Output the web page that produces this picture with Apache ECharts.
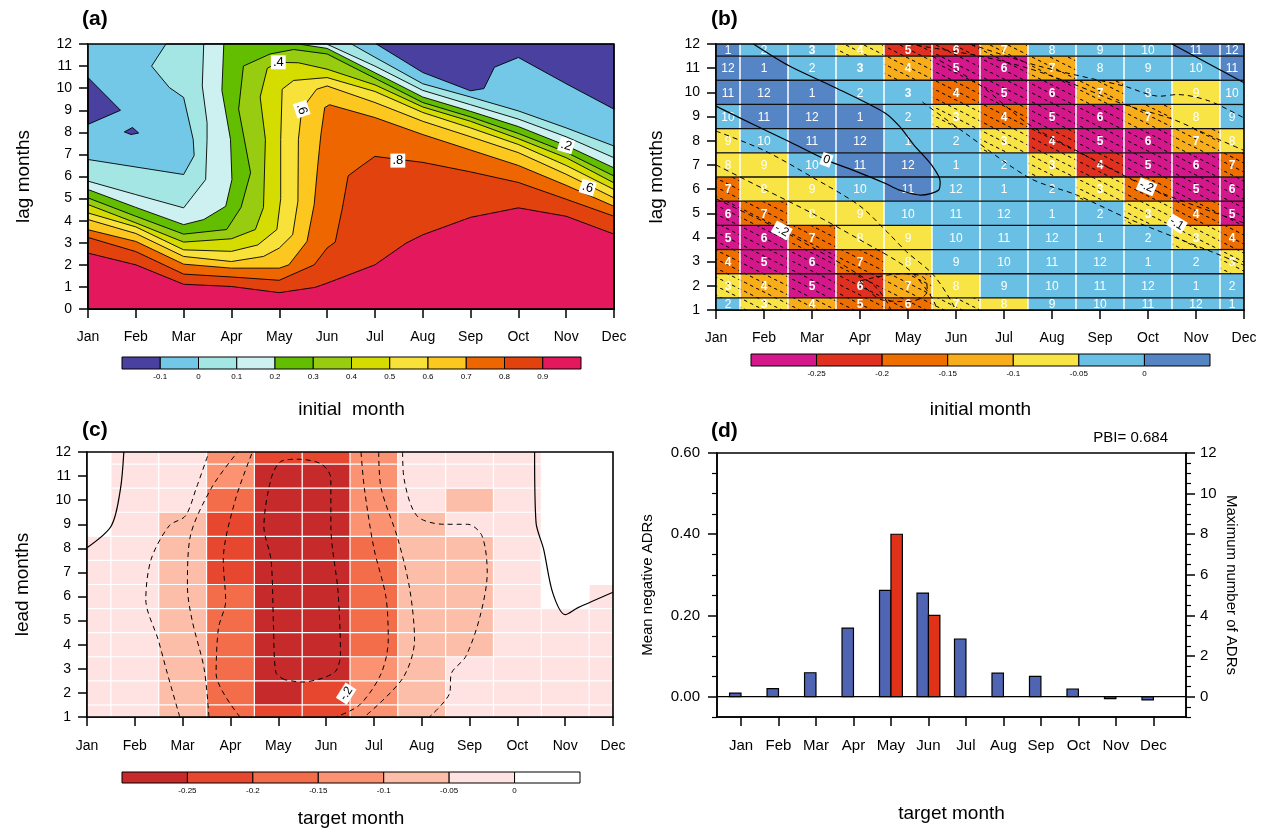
<!DOCTYPE html>
<html>
<head>
<meta charset="utf-8">
<script src="https://cdn.jsdelivr.net/npm/echarts@6/dist/echarts.min.js"></script>
<style>
  html, body { margin: 0; padding: 0; background: #fff; }
  #main { width: 1262px; height: 829px; }
</style>
</head>
<body>
<div id="main"></div>
<script>
var FONT = 'Liberation Sans';
var months = ['Jan', 'Feb', 'Mar', 'Apr', 'May', 'Jun', 'Jul', 'Aug', 'Sep', 'Oct', 'Nov', 'Dec'];

// ---------- (a) contour lines: [month index, lag] ----------
var aLevelLabels = ['-0.1', '0', '0.1', '0.2', '0.3', '0.4', '0.5', '0.6', '0.7', '0.8', '0.9'];
var aColors = ['#4a40a0', '#72c8e6', '#a4e6e4', '#cdf0f0', '#64be00', '#98cc10', '#d4dc00',
    '#f8e23a', '#fcc820', '#ee6600', '#e2420e', '#e4185c'];
var aBlue1 = [[0, 10.48], [0.68, 9.0], [0, 8.36]];
var aBlue2 = [[0.76, 8.02], [0.93, 8.22], [1.06, 7.97], [0.9, 7.9]];
var aBlue3 = [[6.03, 12], [7, 10.71], [8, 9.88], [8.28, 9.98], [8.5, 10.95], [9, 11.39], [10, 10.2], [11, 9.05], [11, 12]];
var aC00L = [[0, 6.77], [2, 6.09], [2.22, 6.95], [2.2, 7.68], [2.0, 9.58], [1.7, 10.03], [1.33, 11.0], [1.63, 12]];
var aC00R = [[5.51, 12], [6, 11.4], [7, 10.2], [8, 9.6], [9, 8.97], [10, 8.2], [11, 7.38]];
var aC01L = [[0, 5.79], [1, 5.18], [2, 4.58], [2.46, 5.86], [2.49, 7.68], [2.49, 8.44], [2.39, 10.1], [2.42, 12]];
var aC01R = [[4.99, 12], [6, 11.0], [7, 9.9], [8, 9.25], [9, 8.6], [10, 7.8], [11, 6.85]];
var aC02L = [[0, 5.41], [1, 4.6], [2, 3.82], [2.42, 4.05], [2.88, 4.65], [3.01, 5.86], [2.98, 7.68], [2.8, 9.9], [2.84, 12]];
var aC02R = [[4.4, 12], [5, 11.8], [6, 10.7], [7, 9.6], [8, 8.95], [9, 8.26], [10, 7.4], [11, 6.39]];
var aC03 = [[0, 5.03], [1, 4.2], [2, 3.39], [2.9, 3.6], [3.2, 4.6], [3.4, 6.17], [3.15, 9.05], [3.25, 11.0], [3.81, 11.55],
    [4.3, 11.75], [5, 11.55], [6, 10.45], [7, 9.35], [8, 8.7], [9, 7.95], [10, 7.1], [11, 6.02]];
var aC04 = [[0, 4.73], [1, 3.9], [2, 3.03], [3, 3.18], [3.5, 3.6], [3.67, 4.6], [3.71, 7.68], [3.6, 9.6], [3.75, 10.9],
    [3.98, 11.17], [4.4, 11.15], [5, 10.86], [6, 10.15], [7, 9.15], [8, 8.5], [9, 7.71], [10, 6.85], [11, 5.71]];
var aC05 = [[0, 4.35], [1, 3.72], [2, 2.68], [3, 2.61], [3.55, 2.9], [3.95, 3.6], [4.03, 5.0], [4.03, 7.68], [4.06, 9.95],
    [4.3, 10.35], [5, 10.48], [6, 9.85], [7, 8.9], [8, 8.2], [9, 7.45], [10, 6.5], [11, 5.41]];
var aC06 = [[0, 4.05], [1, 3.42], [2, 2.38], [3, 2.15], [3.67, 2.38], [4, 2.76], [4.28, 3.36], [4.39, 4.88], [4.4, 7.68],
    [4.47, 9.05], [4.78, 9.95], [5, 10.1], [6, 9.35], [7, 8.5], [8, 7.8], [9, 7.08], [10, 6.1], [11, 5.03]];
var aC07 = [[0, 3.59], [1, 3.06], [2, 2.03], [3, 1.85], [4, 1.85], [4.2, 2.0], [4.58, 3.06], [4.73, 4.73], [4.8, 6.39],
    [4.87, 7.9], [4.95, 9.12], [5.05, 9.25], [6, 8.67], [7, 7.9], [8, 7.2], [9, 6.5], [10, 5.6], [11, 4.65]];
var aC08 = [[0, 3.24], [1, 2.6], [2, 1.58], [3, 1.45], [4, 1.3], [4.73, 2.0], [5, 2.76], [5.17, 3.03], [5.32, 4.58],
    [5.44, 6.03], [5.72, 6.48], [6, 6.91], [7, 6.64], [8, 6.21], [9, 5.73], [10, 4.97], [11, 4.2]];
var aC09 = [[0, 2.53], [1, 2.0], [2, 1.12], [3, 1.02], [4, 0.74], [4.75, 0.98], [5, 1.17], [6, 2.0], [6.65, 2.98],
    [7, 3.36], [8, 4.15], [9, 4.58], [10, 4.2], [11, 3.39]];
var aLabels = [[3.98, 11.17, '.4', 0], [4.47, 9.05, '.6', -1.25], [6.48, 6.72, '.8', 0], [10.0, 7.4, '.2', -0.3], [10.45, 5.5, '.6', -0.3]];

// ---------- (b) colour class per cell, rows lag 1..12, columns Jan..Dec ----------
var bColors = ['#d4188c', '#e03020', '#ee6e00', '#f8ae1a', '#f8e444', '#6ac0e4', '#5585c5'];
var bLevelLabels = ['-0.25', '-0.2', '-0.15', '-0.1', '-0.05', '0'];
var bClass = [
    [5, 4, 3, 2, 2, 4, 4, 5, 5, 5, 5, 5],
    [4, 3, 0, 1, 3, 4, 5, 5, 5, 5, 5, 5],
    [2, 0, 0, 2, 4, 5, 5, 5, 5, 5, 5, 4],
    [0, 0, 2, 4, 4, 5, 5, 5, 5, 5, 4, 2],
    [0, 2, 4, 4, 5, 5, 5, 5, 5, 4, 2, 0],
    [2, 4, 4, 5, 6, 5, 5, 5, 4, 2, 0, 0],
    [4, 4, 5, 6, 6, 5, 5, 4, 1, 0, 0, 2],
    [4, 5, 6, 6, 5, 5, 4, 1, 0, 0, 3, 4],
    [5, 6, 6, 6, 5, 4, 2, 0, 0, 3, 4, 5],
    [6, 6, 6, 5, 5, 2, 0, 0, 3, 5, 4, 5],
    [6, 6, 5, 5, 3, 0, 0, 3, 5, 5, 5, 6],
    [6, 5, 5, 4, 1, 1, 3, 5, 5, 5, 6, 6]
];
var bStrongMonths = [3, 4, 5, 6, 7];
var bZeroA = [[0.78, 12], [1.52, 11.1], [2.49, 10.19], [3.52, 9.15], [3.82, 8.6], [4.12, 7.83], [4.49, 7.0], [4.67, 6.31],
    [4.64, 5.96], [4.27, 5.75], [3.82, 5.96], [3.52, 6.24], [2.93, 6.72], [2.3, 7.21], [1.52, 7.97], [0.78, 8.67], [0, 9.43]];
var bZeroB = [[9.5, 12], [11, 10.4]];
var bDashUA = [[5.3, 12], [6.7, 11.1], [8.5, 10.26], [9.24, 9.84], [9.61, 9.91], [10.28, 9.64], [11, 8.94]];
var bDashUB = [[4.3, 9.6], [5.2, 8.3], [6.54, 6.45], [7.51, 5.76], [8.56, 4.8], [9.53, 4.03], [10.5, 3.27], [11, 2.85]];
var bDashUC = [[4.5, 11.5], [5.5, 10.3], [6.5, 8.7], [7.5, 7.6], [8.97, 6.1], [10, 5.3], [11, 4.6]];
var bDashUD = [[4.0, 12], [5.5, 11.5], [6.5, 11], [7.5, 10.3], [8.5, 9.5], [9.5, 8.9], [10.3, 8.2], [11, 7.6]];
var bDashLA = [[0, 8.4], [1, 7.6], [2, 6.5], [3, 5.3], [3.56, 4.24], [3.97, 3.41], [4.53, 2.45], [4.94, 1.21], [5.05, 0.5]];
var bDashLB = [[0, 7.0], [1, 6.0], [2, 5.0], [3, 3.9], [4, 2.7], [4.5, 1.5], [4.7, 0.5]];
var bDashLC = [[0, 5.6], [1.37, 4.29], [2, 3.6], [2.7, 2.8], [3.3, 2.0], [3.6, 1.2], [3.7, 0.5]];
var bDashLE = [[3.0, 2.2], [3.5, 1.4], [4.0, 1.35], [4.4, 1.8], [4.35, 2.3], [3.9, 2.5], [3.0, 2.2]];
var bLabels = [[2.3, 7.21, '0', -0.35], [1.37, 4.29, '-.2', -0.5], [8.97, 6.1, '-.2', -0.4], [9.6, 4.57, '-.1', -0.55]];

// ---------- (c) colour class per cell, rows lead 1..12, columns Jan..Dec ----------
var cColors = ['#c62a2a', '#e8472f', '#f46d4b', '#fb9272', '#fdbea9', '#fee3e2', '#ffffff'];
var cClass = [
    [5, 5, 4, 2, 1, 1, 3, 4, 5, 5, 5, 5],
    [5, 5, 4, 2, 0, 1, 3, 4, 5, 5, 5, 5],
    [5, 5, 4, 2, 0, 0, 3, 4, 5, 5, 5, 5],
    [5, 5, 4, 2, 0, 0, 2, 4, 4, 5, 5, 5],
    [5, 5, 4, 2, 0, 0, 2, 4, 4, 5, 5, 5],
    [5, 5, 4, 2, 0, 0, 2, 4, 4, 5, 6, 5],
    [5, 5, 4, 1, 0, 0, 2, 4, 4, 5, 6, 6],
    [5, 5, 4, 1, 0, 0, 2, 4, 4, 5, 6, 6],
    [6, 5, 4, 1, 0, 0, 3, 4, 5, 5, 6, 6],
    [6, 5, 5, 2, 0, 0, 3, 5, 4, 5, 6, 6],
    [6, 5, 5, 3, 0, 0, 3, 5, 5, 5, 6, 6],
    [6, 5, 5, 3, 1, 1, 3, 5, 5, 5, 6, 6]
];
var cSolidL = [[0.77, 12], [0.7, 10.47], [0.51, 8.94], [0, 8.03]];
var cSolidR = [[9.36, 12], [9.39, 9.08], [9.55, 7.96], [9.74, 6.15], [10.0, 5.25], [10.26, 5.53], [11, 6.18]];
var c1L = [[1.94, 1], [1.68, 2.81], [1.49, 4.2], [1.23, 5.87], [1.34, 7.54], [1.72, 8.94], [2.06, 9.35], [2.28, 10.47], [2.55, 12]];
var c1R = [[6.6, 12], [6.63, 10.89], [6.9, 9.35], [7.47, 9.0], [7.96, 9.0], [8.26, 8.52], [8.37, 6.99], [8.22, 5.18],
    [7.92, 3.51], [7.62, 2.81], [7.58, 1.97], [7.16, 1.0]];
var c2L = [[2.55, 1], [2.45, 3.0], [2.2, 5.0], [2.1, 6.4], [2.15, 8.4], [2.6, 10.5], [3.15, 12]];
var c2R = [[6.1, 12], [6.15, 10.5], [6.5, 8.4], [6.75, 6.3], [6.85, 4.2], [6.6, 2.6], [5.8, 1.0]];
var c3L = [[3.2, 1], [2.7, 2.8], [2.75, 4.7], [2.9, 5.8], [2.85, 7.5], [3.1, 10.0], [3.46, 12]];
var c3R = [[5.73, 12], [5.8, 10.5], [6.0, 8.0], [6.25, 6.0], [6.3, 4.2], [6.15, 2.8], [5.7, 1.5], [5.2, 1.0]];
var c4 = [[4.13, 2.55], [3.95, 2.85], [3.9, 4.8], [3.85, 7.5], [3.7, 8.9], [3.85, 10.9], [4.05, 11.6], [4.4, 11.7],
    [4.9, 11.5], [5.1, 10.9], [5.1, 8.9], [5.25, 6.2], [5.3, 3.6], [5.2, 2.9], [4.9, 2.6], [4.5, 2.45], [4.13, 2.55]];
var cLabels = [[5.42, 1.97, '-.2', 1.0]];

// ---------- (d) bars ----------
var dBlue = [0.009, 0.02, 0.059, 0.169, 0.262, 0.255, 0.142, 0.058, 0.05, 0.019, -0.005, -0.008];
var dRed = [null, null, null, null, 8, 4, null, null, null, null, null, null];
var dXRange = [-0.64, 11.87];
var dLeftTicks = [0, 0.2, 0.4, 0.6];
var dRightTicks = [0, 2, 4, 6, 8, 10, 12];

// hatch pattern for the significant cells of (b)
var hatch = document.createElement('canvas');
hatch.width = 18;
hatch.height = 9;
(function () {
    var g = hatch.getContext('2d');
    g.strokeStyle = '#000';
    g.lineWidth = 1;
    g.setLineDash([3.6, 3.1]);
    g.beginPath();
    g.moveTo(0, 0);
    g.lineTo(18, 9);
    g.stroke();
})();

var aEdge = [[11, 0], [0, 0]];
var aBox = [[0, 0], [11, 0], [11, 12], [0, 12]];
var aRegions = [
    {pts: aBox, color: aColors[1], bare: true},
    {pts: aBlue1, color: aColors[0]},
    {pts: aBlue2, color: aColors[0]},
    {pts: aBlue3, color: aColors[0]},
    {pts: aC00L.concat(aC00R, aEdge), color: aColors[2]},
    {pts: aC01L.concat(aC01R, aEdge), color: aColors[3]},
    {pts: aC02L.concat(aC02R, aEdge), color: aColors[4]},
    {pts: aC03.concat(aEdge), color: aColors[5]},
    {pts: aC04.concat(aEdge), color: aColors[6]},
    {pts: aC05.concat(aEdge), color: aColors[7]},
    {pts: aC06.concat(aEdge), color: aColors[8]},
    {pts: aC07.concat(aEdge), color: aColors[9]},
    {pts: aC08.concat(aEdge), color: aColors[10]},
    {pts: aC09.concat(aEdge), color: aColors[11]}
];

function cellData(rows) {
    var out = [];
    rows.forEach(function (row, r) {
        row.forEach(function (cls, m) {
            out.push([m, r + 1, cls]);
        });
    });
    return out;
}

function clippedRect(params, api, x, y) {
    var cs = params.coordSys;
    var p0 = api.coord([x - 0.5, y + 0.5]);
    var p1 = api.coord([x + 0.5, y - 0.5]);
    var x0 = Math.max(p0[0], cs.x), x1 = Math.min(p1[0], cs.x + cs.width);
    var y0 = Math.max(p0[1], cs.y), y1 = Math.min(p1[1], cs.y + cs.height);
    return {x0: x0, x1: x1, y0: y0, y1: y1, right: p1[0] < cs.x + cs.width - 1, top: p0[1] > cs.y + 1};
}

function textItem(api, p, txt, rot, size) {
    var c = api.coord([p[0], p[1]]);
    return {
        type: 'text', x: c[0], y: c[1], rotation: rot, z2: 20,
        style: {
            text: txt, fill: '#000', font: size + 'px ' + FONT, backgroundColor: '#fff', padding: [1, 2, 0, 2],
            align: 'center', verticalAlign: 'middle', textAlign: 'center', textVerticalAlign: 'middle'
        }
    };
}

function labelSeries(gi, list, size) {
    return {
        type: 'custom', xAxisIndex: gi, yAxisIndex: gi, z: 4, silent: true,
        data: list.map(function (l) { return [l[0], l[1]]; }),
        renderItem: function (params, api) {
            var l = list[params.dataIndex];
            return textItem(api, l, l[2], l[3], size);
        }
    };
}

function contour(gi, pts, dashed, smooth) {
    return {
        type: 'line', xAxisIndex: gi, yAxisIndex: gi, data: pts, symbol: 'none', showSymbol: false,
        smooth: smooth, silent: true, clip: true, z: 3,
        lineStyle: {color: '#000', width: dashed ? 1 : 1.2, type: dashed ? [5, 4] : 'solid'}
    };
}

function frame(gi, yi) {
    return {
        type: 'custom', xAxisIndex: gi, yAxisIndex: yi, z: 6, silent: true, data: [[0, 0]],
        renderItem: function (params) {
            var cs = params.coordSys;
            return {type: 'rect', shape: {x: cs.x, y: cs.y, width: cs.width, height: cs.height},
                style: {fill: null, stroke: '#000', lineWidth: 1.6}};
        }
    };
}

function colorbar(xi, yi, colors) {
    return {
        type: 'custom', xAxisIndex: xi, yAxisIndex: yi, silent: true,
        data: colors.map(function (c, i) { return [i]; }),
        renderItem: function (params, api) {
            var i = params.dataIndex;
            var p0 = api.coord([i, 1]), p1 = api.coord([i + 1, 0]);
            return {type: 'rect', shape: {x: p0[0], y: p0[1], width: p1[0] - p0[0], height: p1[1] - p0[1]},
                style: {fill: colors[i], stroke: '#000', lineWidth: 1}};
        }
    };
}

function mainX(gi, margin) {
    return {
        type: 'value', gridIndex: gi, min: 0, max: 11, interval: 1,
        axisLine: {show: true, onZero: false, lineStyle: {color: '#000', width: 1.5}},
        axisTick: {show: true, inside: false, length: 9, lineStyle: {color: '#000', width: 1.5}},
        axisLabel: {color: '#000', fontSize: 14, fontFamily: FONT, margin: margin,
            formatter: function (v) { return months[v]; }},
        splitLine: {show: false}
    };
}

function mainY(gi, min, name, gap) {
    return {
        type: 'value', gridIndex: gi, min: min, max: 12, interval: 1,
        name: name, nameLocation: 'middle', nameGap: gap,
        nameTextStyle: {color: '#000', fontSize: 19, fontFamily: FONT},
        axisLine: {show: true, onZero: false, lineStyle: {color: '#000', width: 1.5}},
        axisTick: {show: true, inside: false, length: 9, lineStyle: {color: '#000', width: 1.5}},
        axisLabel: {color: '#000', fontSize: 14, fontFamily: FONT, margin: 16},
        splitLine: {show: false}
    };
}

function barX(gi, labels, name, gap) {
    var vals = [];
    for (var i = 1; i <= labels.length; i++) vals.push(i);
    return {
        type: 'value', gridIndex: gi, min: 0, max: labels.length + 1, show: true,
        axisLine: {show: false, onZero: false}, axisTick: {show: false}, splitLine: {show: false},
        axisLabel: {customValues: vals, color: '#000', fontSize: 8, fontFamily: FONT, margin: 4,
            formatter: function (v) { return labels[v - 1]; }},
        name: name, nameLocation: 'middle', nameGap: gap,
        nameTextStyle: {color: '#000', fontSize: 19, fontFamily: FONT}
    };
}

var dLeftMinor = [], dRightMinor = [];
for (var k = -1; k <= 12; k++) if (k % 4 !== 0) dLeftMinor.push(k * 0.05);
for (var k2 = -2; k2 <= 24; k2++) if (k2 % 4 !== 0) dRightMinor.push(k2 * 0.5);

var chart = echarts.init(document.getElementById('main'));

var option = {
    animation: false,
    backgroundColor: '#fff',
    textStyle: {fontFamily: FONT},
    title: [
        {text: '(a)', left: 82, top: 9, padding: 0, textStyle: {fontSize: 21, fontWeight: 'bold', color: '#000', fontFamily: FONT}},
        {text: '(b)', left: 711, top: 9, padding: 0, textStyle: {fontSize: 21, fontWeight: 'bold', color: '#000', fontFamily: FONT}},
        {text: '(c)', left: 82, top: 420, padding: 0, textStyle: {fontSize: 21, fontWeight: 'bold', color: '#000', fontFamily: FONT}},
        {text: '(d)', left: 711, top: 421, padding: 0, textStyle: {fontSize: 21, fontWeight: 'bold', color: '#000', fontFamily: FONT}},
        {text: 'PBI= 0.684', right: 94, top: 430, padding: 0, textStyle: {fontSize: 15, fontWeight: 'normal', color: '#000', fontFamily: FONT}}
    ],
    grid: [
        {left: 88, top: 44, width: 526, height: 265},
        {left: 716, top: 44, width: 528, height: 266},
        {left: 87, top: 452, width: 526, height: 265},
        {left: 717, top: 453, width: 469, height: 264},
        {left: 122, top: 357, width: 459, height: 12},
        {left: 751, top: 354, width: 459, height: 12},
        {left: 122, top: 772, width: 458, height: 11}
    ],
    xAxis: [
        mainX(0, 21),
        mainX(1, 21),
        mainX(2, 22),
        {
            type: 'value', gridIndex: 3, min: dXRange[0], max: dXRange[1],
            axisLine: {show: true, onZero: false, lineStyle: {color: '#000', width: 1.5}},
            axisTick: {show: true, inside: false, length: 9, customValues: [0, 1, 2, 3, 4, 5, 6, 7, 8, 9, 10, 11],
                lineStyle: {color: '#000', width: 1.5}},
            axisLabel: {customValues: [0, 1, 2, 3, 4, 5, 6, 7, 8, 9, 10, 11], color: '#000', fontSize: 15,
                fontFamily: FONT, margin: 21, formatter: function (v) { return months[v]; }},
            splitLine: {show: false},
            name: 'target month', nameLocation: 'middle', nameGap: 87,
            nameTextStyle: {color: '#000', fontSize: 19, fontFamily: FONT}
        },
        barX(4, aLevelLabels, 'initial  month', 31),
        barX(5, bLevelLabels, 'initial month', 34),
        barX(6, bLevelLabels, 'target month', 26)
    ],
    yAxis: [
        mainY(0, 0, 'lag months', 55),
        mainY(1, 1, 'lag months', 50),
        mainY(2, 1, 'lead months', 55),
        {
            type: 'value', gridIndex: 3, position: 'left', min: -0.05, max: 0.6,
            name: 'Mean negative ADRs', nameLocation: 'middle', nameGap: 62,
            nameTextStyle: {color: '#000', fontSize: 15, fontFamily: FONT},
            axisLine: {show: true, onZero: false, lineStyle: {color: '#000', width: 1.5}},
            axisTick: {show: true, inside: false, length: 9, customValues: dLeftTicks, lineStyle: {color: '#000', width: 1.5}},
            axisLabel: {customValues: dLeftTicks, color: '#000', fontSize: 15, fontFamily: FONT, margin: 17,
                formatter: function (v) { return v.toFixed(2); }},
            splitLine: {show: false}
        },
        {
            type: 'value', gridIndex: 3, position: 'right', min: -1, max: 12,
            name: 'Maximum number of ADRs', nameLocation: 'middle', nameGap: 38, nameRotate: -90,
            nameTextStyle: {color: '#000', fontSize: 15, fontFamily: FONT},
            axisLine: {show: true, onZero: false, lineStyle: {color: '#000', width: 1.5}},
            axisTick: {show: true, inside: false, length: 9, customValues: dRightTicks, lineStyle: {color: '#000', width: 1.5}},
            axisLabel: {customValues: dRightTicks, color: '#000', fontSize: 15, fontFamily: FONT, margin: 14},
            splitLine: {show: false}
        },
        {type: 'value', gridIndex: 4, min: 0, max: 1, show: false},
        {type: 'value', gridIndex: 5, min: 0, max: 1, show: false},
        {type: 'value', gridIndex: 6, min: 0, max: 1, show: false},
        {
            type: 'value', gridIndex: 3, position: 'left', min: -0.05, max: 0.6,
            axisLine: {show: false, onZero: false}, axisLabel: {show: false}, splitLine: {show: false},
            axisTick: {show: true, inside: false, length: 5, customValues: dLeftMinor, lineStyle: {color: '#000', width: 1.2}}
        },
        {
            type: 'value', gridIndex: 3, position: 'right', min: -1, max: 12,
            axisLine: {show: false, onZero: false}, axisLabel: {show: false}, splitLine: {show: false},
            axisTick: {show: true, inside: false, length: 5, customValues: dRightMinor, lineStyle: {color: '#000', width: 1.2}}
        }
    ],
    series: [
        // (a) filled contours
        {
            type: 'custom', xAxisIndex: 0, yAxisIndex: 0, silent: true,
            data: aRegions.map(function (r, i) { return [i]; }),
            renderItem: function (params, api) {
                var r = aRegions[params.dataIndex];
                return {
                    type: 'polygon', z2: params.dataIndex,
                    shape: {points: r.pts.map(function (p) { return api.coord(p); })},
                    style: {fill: r.color, stroke: r.bare ? null : '#000', lineWidth: 0.9}
                };
            }
        },
        labelSeries(0, aLabels, 13),
        // (b) cells
        {
            type: 'custom', xAxisIndex: 1, yAxisIndex: 1, silent: true,
            data: cellData(bClass),
            renderItem: function (params, api) {
                var m = api.value(0), lag = api.value(1), cls = api.value(2);
                var target = (m + lag) % 12 + 1;
                var strong = bStrongMonths.indexOf(target) >= 0;
                var r = clippedRect(params, api, m, lag);
                var kids = [{type: 'rect', z2: 0, shape: {x: r.x0, y: r.y0, width: r.x1 - r.x0, height: r.y1 - r.y0},
                    style: {fill: bColors[cls]}}];
                if (strong && cls < 5) {
                    kids.push({type: 'rect', z2: 1, shape: {x: r.x0, y: r.y0, width: r.x1 - r.x0, height: r.y1 - r.y0},
                        style: {fill: {image: hatch, repeat: 'repeat'}}});
                }
                if (r.right) {
                    kids.push({type: 'line', z2: 2, shape: {x1: r.x1, y1: r.y0, x2: r.x1, y2: r.y1},
                        style: {stroke: '#fff', lineWidth: 1.5}});
                }
                if (r.top) {
                    kids.push({type: 'line', z2: 3, shape: {x1: r.x0, y1: r.y0, x2: r.x1, y2: r.y0},
                        style: {stroke: '#111', lineWidth: 1.3}});
                }
                kids.push({type: 'text', z2: 4, x: (r.x0 + r.x1) / 2, y: (r.y0 + r.y1) / 2 + 1,
                    style: {text: String(target), fill: '#fff', font: (strong ? 'bold ' : '') + '12px ' + FONT,
                        align: 'center', verticalAlign: 'middle', textAlign: 'center', textVerticalAlign: 'middle'}});
                return {type: 'group', children: kids};
            }
        },
        contour(1, bZeroA, false, 0.3),
        contour(1, bZeroB, false, false),
        contour(1, bDashUA, true, 0.3),
        contour(1, bDashUB, true, 0.3),
        contour(1, bDashUC, true, 0.3),
        contour(1, bDashUD, true, 0.3),
        contour(1, bDashLA, true, 0.3),
        contour(1, bDashLB, true, 0.3),
        contour(1, bDashLC, true, 0.3),
        contour(1, bDashLE, true, 0.4),
        labelSeries(1, bLabels, 12),
        // (c) cells
        {
            type: 'custom', xAxisIndex: 2, yAxisIndex: 2, silent: true,
            data: cellData(cClass),
            renderItem: function (params, api) {
                var m = api.value(0), lead = api.value(1), cls = api.value(2);
                var r = clippedRect(params, api, m, lead);
                var kids = [{type: 'rect', z2: 0, shape: {x: r.x0, y: r.y0, width: r.x1 - r.x0, height: r.y1 - r.y0},
                    style: {fill: cColors[cls]}}];
                if (r.right) {
                    kids.push({type: 'line', z2: 2, shape: {x1: r.x1, y1: r.y0, x2: r.x1, y2: r.y1},
                        style: {stroke: '#fff', lineWidth: 1.2}});
                }
                if (r.top) {
                    kids.push({type: 'line', z2: 2, shape: {x1: r.x0, y1: r.y0, x2: r.x1, y2: r.y0},
                        style: {stroke: '#fff', lineWidth: 1.2}});
                }
                return {type: 'group', children: kids};
            }
        },
        contour(2, cSolidL, false, 0.3),
        contour(2, cSolidR, false, 0.3),
        contour(2, c1L, true, 0.3),
        contour(2, c1R, true, 0.3),
        contour(2, c2L, true, 0.3),
        contour(2, c2R, true, 0.3),
        contour(2, c3L, true, 0.3),
        contour(2, c3R, true, 0.3),
        contour(2, c4, true, 0.3),
        labelSeries(2, cLabels, 12),
        // (d) bars
        {
            type: 'custom', xAxisIndex: 3, yAxisIndex: 3, silent: true,
            data: dBlue.map(function (v, i) { return [i, v]; }),
            renderItem: function (params, api) {
                var i = api.value(0), v = api.value(1);
                var p0 = api.coord([i - 0.305, 0]), p1 = api.coord([i, v]);
                return {type: 'rect', shape: {x: p0[0], y: Math.min(p0[1], p1[1]), width: p1[0] - p0[0],
                    height: Math.abs(p1[1] - p0[1])}, style: {fill: '#5064b4', stroke: '#000', lineWidth: 1.2}};
            }
        },
        {
            type: 'custom', xAxisIndex: 3, yAxisIndex: 4, silent: true,
            data: dRed.map(function (v, i) { return [i, v]; }).filter(function (d) { return d[1] !== null; }),
            renderItem: function (params, api) {
                var i = api.value(0), v = api.value(1);
                var p0 = api.coord([i, 0]), p1 = api.coord([i + 0.305, v]);
                return {type: 'rect', shape: {x: p0[0], y: Math.min(p0[1], p1[1]), width: p1[0] - p0[0],
                    height: Math.abs(p1[1] - p0[1])}, style: {fill: '#e03218', stroke: '#000', lineWidth: 1.2}};
            }
        },
        {
            type: 'line', xAxisIndex: 3, yAxisIndex: 3, symbol: 'none', silent: true, z: 3,
            data: [[dXRange[0], 0], [dXRange[1], 0]],
            lineStyle: {color: '#000', width: 1.2}
        },
        // colour bars
        colorbar(4, 5, aColors),
        colorbar(5, 6, bColors),
        colorbar(6, 7, cColors),
        // plot frames
        frame(0, 0),
        frame(1, 1),
        frame(2, 2),
        frame(3, 3)
    ]
};

chart.setOption(option);
</script>
</body>
</html>
